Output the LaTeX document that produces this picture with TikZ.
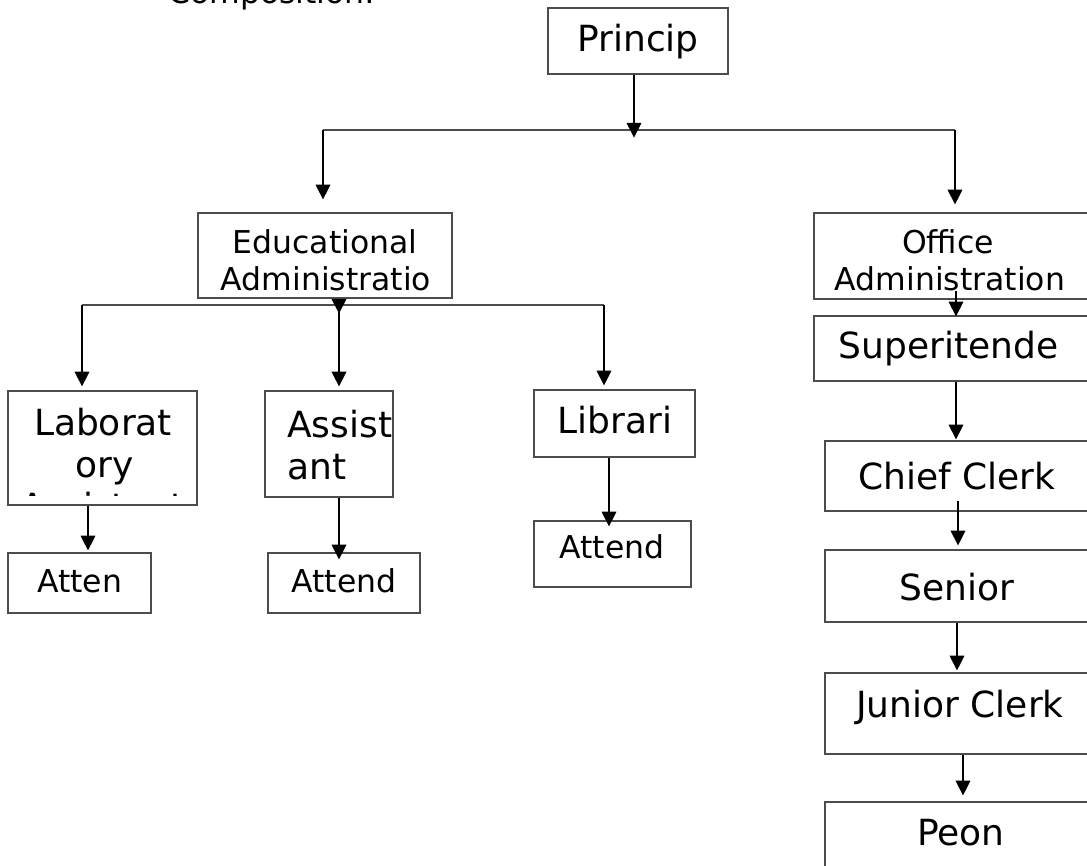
\documentclass[tikz,border=0pt]{standalone}
\usepackage{fontspec}
\setmainfont{DejaVu Sans}
\usetikzlibrary{arrows.meta,calc}
\tikzset{
  bx/.style 2 args={draw=black!70, line width=0.9pt, minimum width={#1*0.75pt}, minimum height={#2*0.75pt}, inner sep=0pt},
  arr/.style={-{Triangle[length=11pt,width=11pt]}, line width=0.8pt},
  big/.style={font=\fontsize{27}{31.5}\selectfont, anchor=base, inner sep=0pt},
  small/.style={font=\fontsize{23.6}{27.6}\selectfont, anchor=base, inner sep=0pt}
}

\begin{document}
\begin{tikzpicture}[x=0.75pt,y=-0.75pt]
  \useasboundingbox (0,0) rectangle (1087,866);
  \clip (0,0) rectangle (1087,866);
  % \draw[step=100,gray,very thin] (0,0) grid (1087,866);
  \node[small, anchor=base west] (comp) at (168,4) {Composition:};

  % boxes
  \node[bx={180}{66}] (princ) at (638,41) {};
  \node[bx={254}{85}] (edu) at (325,255.5) {};
  \node[bx={275}{86}] (office) at (951.5,256) {};
  \node[bx={189}{114}] (lab) at (102.5,448) {};
  \node[bx={128}{106}] (assist) at (329,444) {};
  \node[bx={161}{67}] (lib) at (614.5,423.5) {};
  \node[bx={143}{60}] (att1) at (79.5,583) {};
  \node[bx={152}{60}] (att2) at (344,583) {};
  \node[bx={157}{66}] (att3) at (612.5,554) {};
  \node[bx={275}{65}] (sup) at (951.5,348.5) {};
  \node[bx={264}{70}] (chief) at (957,476) {};
  \node[bx={264}{72}] (senior) at (957,586) {};
  \node[bx={264}{81}] (junior) at (957,713.5) {};
  \node[bx={264}{98}] (peon) at (957,851) {};

  % texts
  \node[big] (tprinc) at (638,52) {Princip};
  \node[small] (tedu1) at (325,253) {Educational};
  \node[small] (tedu2) at (326,290) {Administratio};
  \node[small] (toff1) at (948,253) {Office};
  \node[small] (toff2) at (950,290) {Administration};
  \node[big] (tlab1) at (103,435) {Laborat};
  \node[big] (tlab2) at (105,477) {ory};
  \begin{scope}
    \clip (lab.north west) rectangle ($(lab.south east)+(0,-10)$);
    \node[big] (tlab3) at (103,519) {Assistant};
  \end{scope}
  \node[big, anchor=base west] (tass1) at (287,437) {Assist};
  \node[big, anchor=base west] (tass2) at (287,479) {ant};
  \node[big] (tlib) at (615,433) {Librari};
  \node[small] (tatt1) at (79.5,592) {Atten};
  \node[small] (tatt2) at (344,592) {Attend};
  \node[small] (tatt3) at (612,558) {Attend};
  \node[big] (tsup) at (948.5,358) {Superitende};
  \node[big] (tchief) at (957,489) {Chief Clerk};
  \node[big] (tsen) at (957,600) {Senior};
  \node[big] (tjun) at (960,717) {Junior Clerk};
  \node[big] (tpeon) at (961,845) {Peon};

  % connectors
  \coordinate (bar1l) at (323,130);
  \coordinate (bar1r) at (955,130);
  \coordinate (bar2l) at (82,305);
  \coordinate (bar2m) at (339,305);
  \coordinate (bar2r) at (604,305);
  \draw[line width=0.8pt, black!70] (bar1l) -- (bar1r);
  \draw[line width=0.8pt, black!70] (bar2l) -- (bar2r);
  \draw[arr] ($(princ.south)+(-4,0)$) -- ++(0,63);
  \draw[arr] (bar1l) -- ($(bar1l |- edu.north)+(0,-13)$);
  \draw[arr] (bar1r) -- ($(bar1r |- office.north)+(0,-8)$);
  \draw[arr] (edu.south -| bar2m) -- ++(0,15);
  \draw[arr] (bar2l) -- ($(bar2l |- lab.north)+(0,-4)$);
  \draw[arr] (bar2m) -- ($(bar2m |- assist.north)+(0,-4)$);
  \draw[arr] (bar2r) -- ($(bar2r |- lib.north)+(0,-4)$);
  \draw[arr] ($(lab.south)+(-14.5,0)$) -- ($(att1.north)+(8.5,-2)$);
  \draw[arr] ($(assist.south)+(10,0)$) -- ($(att2.north)+(-5,7)$);
  \draw[arr] ($(lib.south)+(-5.5,0)$) -- ($(att3.north)+(-3.5,6)$);
  \draw[arr] ($(office.south)+(4.5,-9)$) -- ($(sup.north)+(4.5,1)$);
  \draw[arr] ($(sup.south)+(4.5,0)$) -- ($(chief.north)+(-1,-1)$);
  \draw[arr] ($(chief.south)+(1,-11)$) -- ($(senior.north)+(1,-4)$);
  \draw[arr] (senior.south) -- ($(junior.north)+(0,-2)$);
  \draw[arr] ($(junior.south)+(6,0)$) -- ($(peon.north)+(6,-6)$);
\end{tikzpicture}
\end{document}
